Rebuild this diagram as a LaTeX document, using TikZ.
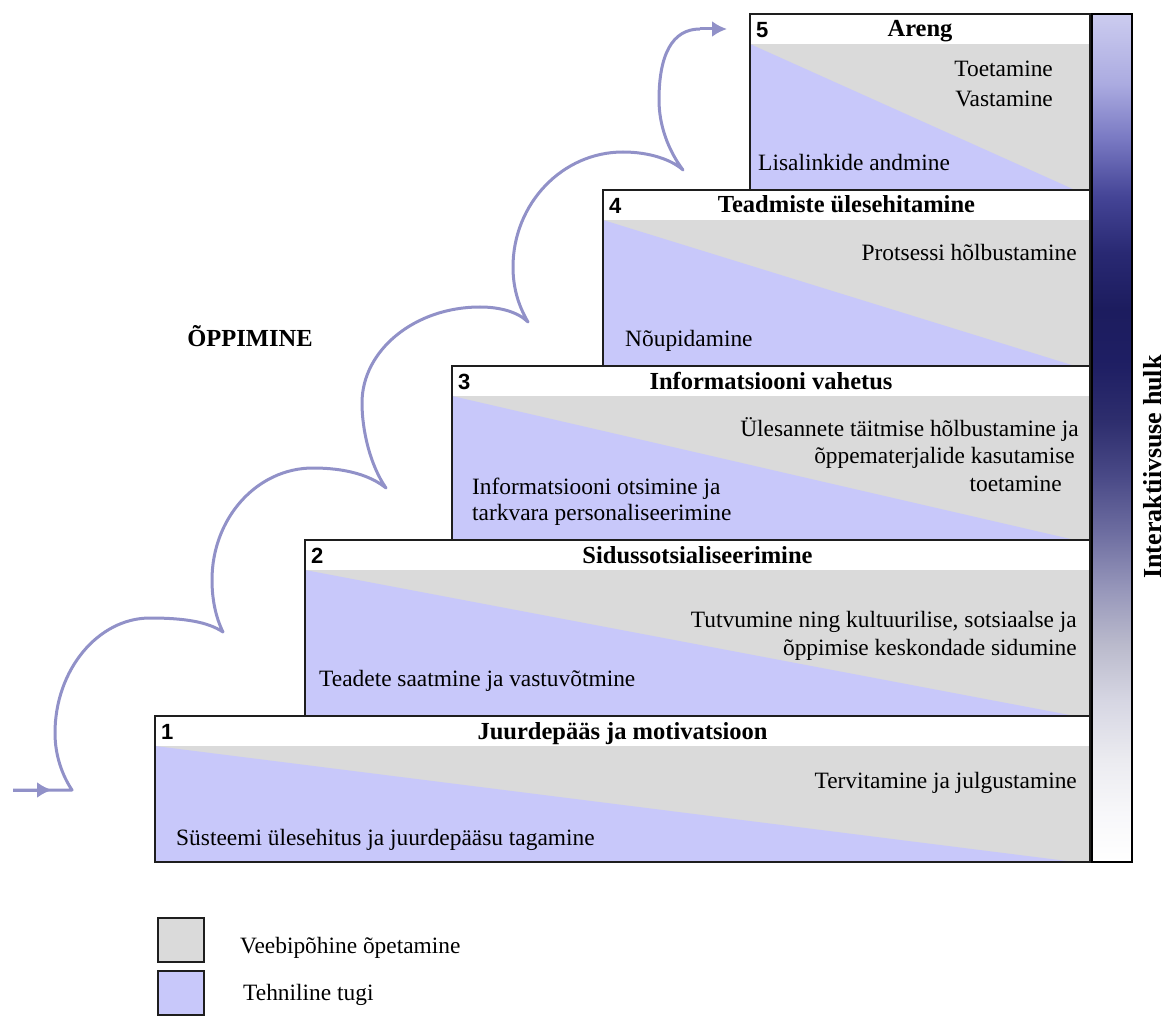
\documentclass[tikz,border=0pt]{standalone}
\usepackage{fontspec}
\setmainfont{Liberation Serif}
\newfontfamily\numfont{Liberation Sans}
\usepackage{tikz}
\usetikzlibrary{calc,arrows.meta,positioning}
\definecolor{webgray}{RGB}{218,218,218}
\definecolor{techblue}{RGB}{200,200,250}
\definecolor{curlblue}{RGB}{145,145,200}
\definecolor{edgegray}{RGB}{30,30,30}
\pgfdeclareverticalshading{interbar}{100bp}{rgb(0bp)=(1,1,1); rgb(25bp)=(1,1,1);
  rgb(27.83bp)=(0.97,0.97,0.98); rgb(31.13bp)=(0.92,0.92,0.94); rgb(34.49bp)=(0.84,0.84,0.89);
  rgb(37.8bp)=(0.73,0.73,0.80); rgb(41.1bp)=(0.59,0.59,0.73); rgb(44.4bp)=(0.43,0.43,0.63);
  rgb(47.7bp)=(0.29,0.29,0.53); rgb(51bp)=(0.18,0.18,0.43); rgb(54.3bp)=(0.12,0.12,0.39);
  rgb(57.61bp)=(0.11,0.11,0.37); rgb(60.91bp)=(0.16,0.16,0.45); rgb(64.27bp)=(0.27,0.27,0.59);
  rgb(67.57bp)=(0.47,0.47,0.76); rgb(70.87bp)=(0.67,0.67,0.88); rgb(75bp)=(0.80,0.80,0.94);
  rgb(100bp)=(0.80,0.80,0.94)}

\begin{document}
\begin{tikzpicture}[x=1pt,y=-1pt]

\tikzset{stepnode/.style={anchor=north west,inner sep=0pt,outer sep=0pt},
stepline/.style={draw=edgegray,line width=2.5pt},
titletext/.style={font=\rmfamily\fontsize{24.5}{28}\selectfont\bfseries,inner sep=0pt,anchor=base},
bodytext/.style={font=\rmfamily\fontsize{23.4}{28}\selectfont,inner sep=0pt},
numlabel/.style={font=\numfont\fontsize{22}{26}\selectfont\bfseries,inner sep=0pt,anchor=north west},
learnpath/.style={draw=curlblue,line width=3pt,line join=round},
legendbox/.style={draw=edgegray,line width=2pt,anchor=north west,inner sep=0pt,minimum width=46pt,minimum height=44pt}}

\useasboundingbox (0,0) rectangle (1168,1016);

% Steps
\node[stepnode,minimum width=935pt,minimum height=146pt] (step1) at (155,716) {};
\node[stepnode,minimum width=785pt,minimum height=176pt] (step2) at (305,540) {};
\node[stepnode,minimum width=638pt,minimum height=174pt] (step3) at (452,366) {};
\node[stepnode,minimum width=487pt,minimum height=176pt] (step4) at (603,190) {};
\node[stepnode,minimum width=340pt,minimum height=176pt] (step5) at (750,14) {};

\foreach \n in {1,...,5} {
  \fill[webgray] ($(step\n.north west)+(0,30)$) rectangle (step\n.south east);
  \fill[techblue] ($(step\n.north west)+(0,30)$) -- (step\n.south west) -- ($(step\n.south east)+(-15,0)$) -- cycle;
}
\foreach \n in {1,...,5} \draw[stepline] (step\n.north west) rectangle (step\n.south east);

% Titles and numbers
\foreach \n/\t in {1/Juurdepääs ja motivatsioon,2/Sidussotsialiseerimine,3/Informatsiooni vahetus,4/Teadmiste ülesehitamine,5/Areng} {
  \node[titletext] (title\n) at ($(step\n.north)+(0,23)$) {\t};
  \node[numlabel] (num\n) at ($(step\n.north west)+(6,8)$) {\n};
}

% Step texts
\node[bodytext,anchor=base east] (web5a) at (1053,77) {Toetamine};
\node[bodytext,anchor=base east] (web5b) at (1053,107) {Vastamine};
\node[bodytext,anchor=base west] (tech5) at (758,171) {Lisalinkide andmine};
\node[bodytext,anchor=base east] (web4) at (1077,261) {Protsessi hõlbustamine};
\node[bodytext,anchor=base west] (tech4) at (625,347) {Nõupidamine};
\node[bodytext,anchor=base east] (web3a) at (1079,436) {Ülesannete täitmise hõlbustamine ja};
\node[bodytext,anchor=base east] (web3b) at (1075,463) {õppematerjalide kasutamise};
\node[bodytext,anchor=base east] (web3c) at (1062,491) {toetamine};
\node[bodytext,anchor=base west] (tech3a) at (472,494) {Informatsiooni otsimine ja};
\node[bodytext,anchor=base west] (tech3b) at (472,520) {tarkvara personaliseerimine};
\node[bodytext,anchor=base east] (web2a) at (1077,627) {Tutvumine ning kultuurilise, sotsiaalse ja};
\node[bodytext,anchor=base east] (web2b) at (1077,655) {õppimise keskondade sidumine};
\node[bodytext,anchor=base west] (tech2) at (319,686) {Teadete saatmine ja vastuvõtmine};
\node[bodytext,anchor=base east] (web1) at (1077,788) {Tervitamine ja julgustamine};
\node[bodytext,anchor=base west] (tech1) at (176,845) {Süsteemi ülesehitus ja juurdepääsu tagamine};

% Interactivity bar
\node[stepnode,shading=interbar,draw=black,line width=2.5pt,minimum width=40pt,minimum height=848pt] (bar) at (1092,14) {};
\node[titletext,font=\rmfamily\fontsize{26}{30}\selectfont\bfseries,rotate=90,anchor=center] (barlabel) at (1153,467) {Interaktiivsuse hulk};

% Learning curve
\node[titletext,anchor=base] (learning) at (250,347) {ÕPPIMINE};
\draw[learnpath] (13,790) -- (72,790)
 .. controls (62,775) and (55,755) .. (55,733)
 .. controls (55,670) and (98,618) .. (150,618)
 .. controls (185,618) and (208,622) .. (223,632)
 .. controls (216,618) and (212,600) .. (212,580)
 .. controls (212,518) and (257,468) .. (313,468)
 .. controls (345,468) and (370,475) .. (386,488)
 .. controls (370,465) and (362,430) .. (362,403)
 .. controls (362,350) and (415,307) .. (480,307)
 .. controls (500,307) and (518,312) .. (528,322)
 .. controls (518,305) and (513,287) .. (513,267)
 .. controls (513,204) and (562,152) .. (623,152)
 .. controls (650,152) and (672,160) .. (683,170)
 .. controls (668,150) and (659,125) .. (659,100)
 .. controls (659,55) and (672,29) .. (700,29);
\draw[learnpath,-{Latex[length=15pt,width=16pt]}] (13,790) -- (52,790);
\draw[learnpath,-{Latex[length=15pt,width=16pt]}] (700,29) -- (727,29);

% Legend
\node[legendbox,fill=webgray] (keyweb) at (157,917) {};
\node[legendbox,fill=techblue] (keytech) at (157,970) {};
\node[bodytext,anchor=base west] (keywebtext) at (240,953) {Veebipõhine õpetamine};
\node[bodytext,anchor=base west] (keytechtext) at (243,1000) {Tehniline tugi};

\end{tikzpicture}
\end{document}
